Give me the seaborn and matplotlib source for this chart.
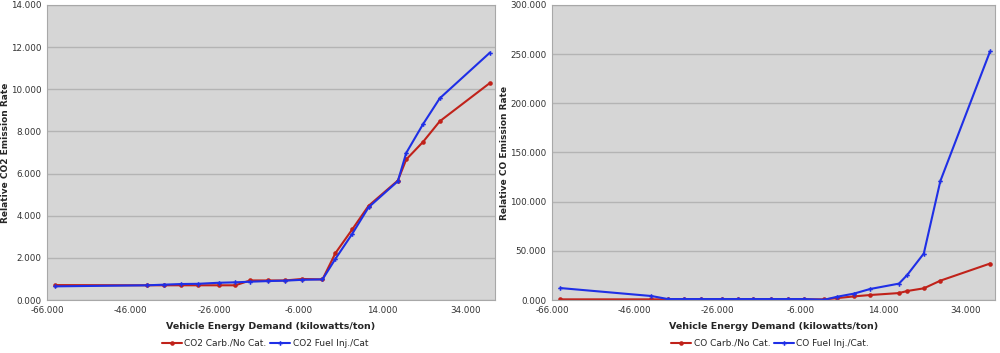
import seaborn as sns
import numpy as np
import pandas as pd
import matplotlib.pyplot as plt
from matplotlib.ticker import FormatStrFormatter, MultipleLocator

# vehicle energy demand (kilowatts/ton), shared by both charts
demand = [-64, -42, -38, -34, -30, -25, -21, -17.5, -13.2, -9.1, -5.1, -0.2,
          2.9, 6.9, 10.8, 17.8, 19.8, 23.8, 27.8, 39.8]

co2_carb = [0.71, 0.70, 0.70, 0.70, 0.70, 0.70, 0.70, 0.93, 0.93, 0.93, 1.00, 0.98,
            2.23, 3.35, 4.47, 5.67, 6.67, 7.50, 8.48, 10.30]
co2_inj = [0.65, 0.70, 0.73, 0.76, 0.77, 0.82, 0.84, 0.87, 0.90, 0.92, 0.96, 0.98,
           1.96, 3.14, 4.40, 5.64, 6.98, 8.34, 9.57, 11.74]

co_carb = [0.7, 0.7, 0.7, 0.7, 0.7, 0.7, 0.7, 0.7, 0.7, 0.7, 0.7, 0.7,
           2.0, 3.7, 5.1, 7.1, 9.2, 11.9, 19.7, 37.1]
co_inj = [12.2, 4.1, 1.0, 1.0, 1.0, 1.0, 1.0, 1.0, 1.0, 1.0, 1.0, 0.3,
          3.4, 6.5, 11.2, 16.7, 25.5, 47.3, 121.0, 252.7]

RED = '#c0221a'
BLUE = '#1f2fe6'

sns.set_style('whitegrid', {'axes.facecolor': '#d6d6d6', 'grid.color': '#b4b4b4',
                            'axes.edgecolor': '#a8a8a8'})
plt.rcParams['font.family'] = ['DejaVu Sans']

fig = plt.figure(figsize=(10, 3.53), dpi=100)
ax1 = fig.add_axes([0.047, 0.150, 0.448, 0.836])
ax2 = fig.add_axes([0.552, 0.150, 0.443, 0.836])


def draw(ax, names, ys, ymax, ystep, ylabel, legend_x, ylab_x):
    df = pd.DataFrame({'x': demand * 2,
                       'y': ys[0] + ys[1],
                       'series': [names[0]] * len(demand) + [names[1]] * len(demand)})
    sns.lineplot(data=df, x='x', y='y', hue='series', style='series',
                 palette=[RED, BLUE], markers=['o', 'P'], dashes=False,
                 markersize=3.3, markeredgewidth=0, linewidth=1.5, ax=ax)
    ax.set_xlim(-66, 41)
    ax.set_ylim(0, ymax)
    ax.set_xticks([-66, -46, -26, -6, 14, 34])
    ax.yaxis.set_major_locator(MultipleLocator(ystep))
    ax.xaxis.set_major_formatter(FormatStrFormatter('%.3f'))
    ax.yaxis.set_major_formatter(FormatStrFormatter('%.3f'))
    ax.grid(axis='x', visible=False)
    ax.grid(axis='y', linewidth=1.0)
    ax.tick_params(labelsize=6.3, colors='#333333', length=0, pad=4)
    ax.set_xlabel('Vehicle Energy Demand (kilowatts/ton)', fontsize=6.8, fontweight='bold')
    ax.set_ylabel(ylabel, fontsize=6.5, fontweight='bold')
    ax.xaxis.set_label_coords(0.5, -0.075)
    ax.yaxis.set_label_coords(ylab_x, 0.5)
    for s in ax.spines.values():
        s.set_linewidth(0.8)
    ax.legend(loc='center', bbox_to_anchor=(legend_x, 0.027), bbox_transform=fig.transFigure,
              ncol=2, frameon=False, fontsize=6.5, handlelength=2.2, columnspacing=0.4,
              handletextpad=0.3, title=None)


draw(ax1, ['CO2 Carb./No Cat.', 'CO2 Fuel Inj./Cat'], [co2_carb, co2_inj],
     14, 2, 'Relative CO2 Emission Rate', 0.265, -0.083)
draw(ax2, ['CO Carb./No Cat.', 'CO Fuel Inj./Cat.'], [co_carb, co_inj],
     300, 50, 'Relative CO Emission Rate', 0.77, -0.097)

fig.savefig('out.png', dpi=100)
